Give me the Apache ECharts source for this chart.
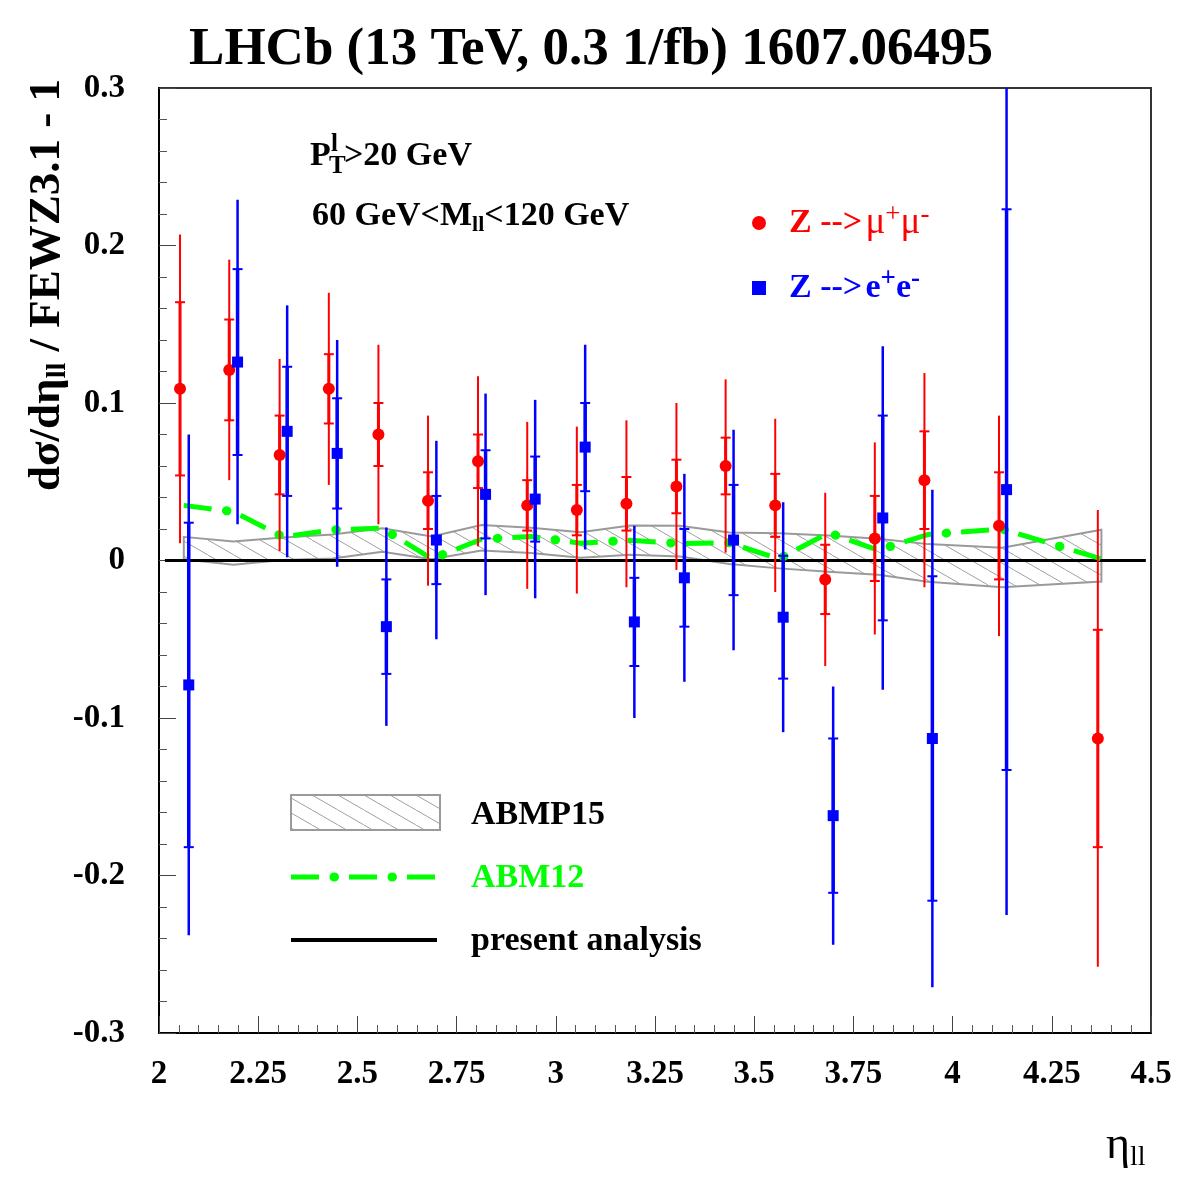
<!DOCTYPE html>
<html><head><meta charset="utf-8">
<script src="https://cdn.jsdelivr.net/npm/echarts@6/dist/echarts.min.js"></script>
<style>html,body{margin:0;padding:0;background:#fff}#c{width:1182px;height:1182px}</style>
</head><body><div id="c"></div>
<script>
// ---- data ----
const muEta  = [2.053,2.177,2.304,2.428,2.553,2.678,2.804,2.928,3.053,3.178,3.304,3.428,3.553,3.679,3.804,3.929,4.117,4.366];
const muVal  = [0.109,0.121,0.067,0.109,0.080,0.038,0.063,0.035,0.032,0.036,0.047,0.060,0.035,-0.012,0.014,0.051,0.022,-0.113];
const muStat = [0.055,0.032,0.025,0.022,0.020,0.018,0.017,0.016,0.016,0.017,0.017,0.018,0.020,0.022,0.027,0.031,0.034,0.069];
const muTot  = [0.098,0.070,0.061,0.061,0.057,0.054,0.054,0.053,0.053,0.053,0.053,0.055,0.055,0.055,0.061,0.068,0.070,0.145];

const eEta  = [2.075,2.198,2.323,2.449,2.573,2.699,2.823,2.948,3.074,3.198,3.324,3.448,3.573,3.699,3.824,3.949,4.136];
const eVal  = [-0.079,0.126,0.082,0.068,-0.042,0.013,0.042,0.039,0.072,-0.039,-0.011,0.013,-0.036,-0.162,0.027,-0.113,0.045];
const eStat = [0.103,0.059,0.041,0.035,0.030,0.028,0.028,0.027,0.028,0.028,0.031,0.035,0.039,0.049,0.065,0.103,0.178];
const eTot  = [0.159,0.103,0.080,0.072,0.063,0.063,0.064,0.063,0.065,0.061,0.066,0.070,0.073,0.082,0.109,0.158,0.270];

const bandEta = [2.0625,2.1875,2.3125,2.4375,2.5625,2.6875,2.8125,2.9375,3.0625,3.1875,3.3125,3.4375,3.5625,3.6875,3.8125,3.9375,4.125,4.375];
const bandUp  = [0.015,0.012,0.0146,0.0165,0.0205,0.0152,0.0225,0.0208,0.018,0.0222,0.022,0.0178,0.0173,0.0158,0.0138,0.0104,0.0081,0.0195];
const bandLo  = [0.0008,-0.0027,0.0003,0.0012,0.0055,0.0008,0.0063,0.0047,0.0018,0.0036,0.0025,-0.0022,-0.005,-0.0072,-0.009,-0.0135,-0.017,-0.0133];

const abm12Eta = bandEta;
const abm12Val = [0.035,0.031,0.015,0.0195,0.0205,0.001,0.0135,0.0152,0.011,0.0128,0.0108,0.0112,0.001,0.0176,0.0065,0.0165,0.020,0.001];

const zeroEta = [2.015,4.487];
const zeroVal = [0,0];

const xTicks = {min:2, max:4.5, step:0.25};
const yTicks = {min:-0.3, max:0.3, step:0.1};

const MU_NAME = 'Z --> μ+μ-';
const E_NAME  = 'Z --> e+e-';

// ---- styling helpers ----
const SERIF = '"Liberation Serif","Times New Roman",serif';
const RED = '#ff0000', BLUE = '#0000ff', GREEN = '#00ff00', GRAY = '#9a9a9a';

function hatchCanvas(){
  const w = 26, h = 15;
  const c = document.createElement('canvas'); c.width = w; c.height = h;
  const g = c.getContext('2d');
  g.strokeStyle = '#a0a0a0'; g.lineWidth = 1;
  g.beginPath(); g.moveTo(-4, -4*h/w); g.lineTo(w+4, h+4*h/w); g.stroke();
  return c;
}
const hatch = {image: hatchCanvas(), repeat: 'repeat'};

function errRender(shape, color, lw){
  return function(params, api){
    const x = api.value(0), v = api.value(1), s = api.value(2), t = api.value(3);
    const cl = y => Math.max(yTicks.min, Math.min(yTicks.max, y));
    const p = api.coord([x, v]);
    const top = api.coord([x, cl(v+t)]), bot = api.coord([x, cl(v-t)]);
    const st = api.coord([x, cl(v+s)]), sb = api.coord([x, cl(v-s)]);
    const ls = {stroke: color, lineWidth: lw};
    const ch = [
      {type:'line', shape:{x1:p[0], y1:top[1], x2:p[0], y2:bot[1]}, style:ls},
      {type:'line', shape:{x1:p[0], y1:st[1], x2:p[0], y2:sb[1]}, style:{stroke:color, lineWidth:lw+1}},
      {type:'line', shape:{x1:p[0]-5, y1:st[1], x2:p[0]+5, y2:st[1]}, style:{stroke:color, lineWidth:2}},
      {type:'line', shape:{x1:p[0]-5, y1:sb[1], x2:p[0]+5, y2:sb[1]}, style:{stroke:color, lineWidth:2}}
    ];
    if (shape === 'circle') ch.push({type:'circle', shape:{cx:p[0], cy:p[1], r:6}, style:{fill:color}});
    else ch.push({type:'rect', shape:{x:p[0]-5.5, y:p[1]-5.5, width:11, height:11}, style:{fill:color}});
    return {type:'group', children: ch};
  };
}

function bandRender(params, api){
  if (params.dataIndex !== 0) return null;
  const pts = [];
  for (let i = 0; i < bandEta.length; i++) pts.push(api.coord([bandEta[i], bandUp[i]]));
  for (let i = bandEta.length-1; i >= 0; i--) pts.push(api.coord([bandEta[i], bandLo[i]]));
  return {type:'polygon', shape:{points:pts}, style:{fill:hatch, stroke:GRAY, lineWidth:2}};
}

const chart = echarts.init(document.getElementById('c'), null, {renderer:'canvas'});

const axisCommon = {
  type:'value',
  axisLine:{show:true, onZero:false, lineStyle:{color:'#000', width:2}},
  axisTick:{show:true, inside:true, length:17, lineStyle:{color:'#444', width:1}},
  minorTick:{show:true, splitNumber:5, length:8, lineStyle:{color:'#555', width:1}},
  splitLine:{show:false}, minorSplitLine:{show:false},
};

const lblStyle = {fontFamily:SERIF, fontWeight:'bold', fontSize:33, color:'#000'};

const option = {
  backgroundColor:'#fff',
  animation:false,
  title:{text:'LHCb (13 TeV, 0.3 1/fb) 1607.06495', left:'center', top:19,
    textStyle:{fontFamily:SERIF, fontWeight:'bold', fontSize:53, color:'#000'}},
  grid:{left:159, right:31, top:88, bottom:149, show:true, borderColor:'#333', borderWidth:2},
  xAxis:Object.assign({}, axisCommon, {min:xTicks.min, max:xTicks.max, interval:xTicks.step,
    axisLabel:Object.assign({margin:25}, lblStyle)}),
  yAxis:Object.assign({}, axisCommon, {min:yTicks.min, max:yTicks.max, interval:yTicks.step,
    axisLabel:Object.assign({margin:34}, lblStyle)}),
  legend:[
    {data:[{name:MU_NAME, icon:'circle'}], left:747, top:196, itemWidth:14, itemHeight:14, selectedMode:false,
     formatter:()=>'{b|Z -->} {m|μ}{s|+}{m|μ}{s|-}',
     textStyle:{color:RED, padding:[0,0,0,18], rich:{
       b:{fontFamily:SERIF, fontWeight:'bold', fontSize:34, color:RED, lineHeight:44},
       m:{fontFamily:SERIF, fontSize:37, color:RED, lineHeight:44},
       s:{fontFamily:SERIF, fontSize:27, color:RED, verticalAlign:'top', lineHeight:44}}}},
    {data:[{name:E_NAME, icon:'rect'}], left:747, top:261, itemWidth:14, itemHeight:14, selectedMode:false,
     formatter:()=>'{b|Z -->} {b|e}{s|+}{b|e}{s|-}',
     textStyle:{color:BLUE, padding:[0,0,0,18], rich:{
       b:{fontFamily:SERIF, fontWeight:'bold', fontSize:34, color:BLUE, lineHeight:44},
       s:{fontFamily:SERIF, fontWeight:'bold', fontSize:27, color:BLUE, verticalAlign:'top', lineHeight:44}}}}
  ],
  series:[
    {name:'ABMP15', type:'custom', renderItem:bandRender, silent:true, z:1,
     data:bandEta.map((e,i)=>[e, bandUp[i], bandLo[i]]), encode:{x:0, y:[1,2]}},
    {name:'present analysis', type:'line', symbol:'none', z:2, silent:true,
     data:zeroEta.map((e,i)=>[e, zeroVal[i]]), lineStyle:{color:'#000', width:3}},
    {name:'ABM12', type:'line', symbol:'none', z:3, silent:true,
     data:abm12Eta.map((e,i)=>[e, abm12Val[i]]),
     lineStyle:{color:GREEN, width:5, type:[28,30], cap:'butt'}},
    {name:'ABM12 dots', type:'line', symbol:'none', z:3, silent:true,
     data:abm12Eta.map((e,i)=>[e, abm12Val[i]]),
     lineStyle:{color:GREEN, width:9, type:[0.5,57.5], dashOffset:-43, cap:'round'}},
    {name:MU_NAME, type:'custom', renderItem:errRender('circle', RED, 2), z:5, itemStyle:{color:RED},
     data:muEta.map((e,i)=>[e, muVal[i], muStat[i], muTot[i]]), encode:{x:0, y:1}},
    {name:E_NAME, type:'custom', renderItem:errRender('rect', BLUE, 2.5), z:5, itemStyle:{color:BLUE},
     data:eEta.map((e,i)=>[e, eVal[i], eStat[i], eTot[i]]), encode:{x:0, y:1}}
  ],
  graphic:[
    // y axis title
    {type:'text', x:47, y:285, rotation:Math.PI/2, style:{
      text:'{n|dσ/dη}{s|ll}{n| / FEWZ3.1 - 1}', align:'center', verticalAlign:'middle',
      textAlign:'center', textVerticalAlign:'middle',
      rich:{n:{fontFamily:SERIF, fontWeight:'bold', fontSize:45, fill:'#000', lineHeight:50},
            s:{fontFamily:SERIF, fontWeight:'bold', fontSize:28, fill:'#000', verticalAlign:'bottom', lineHeight:50}}}},
    // x axis title
    {type:'text', x:1106, y:1146, style:{
      text:'{n|η}{s|ll}', align:'left', verticalAlign:'middle', textAlign:'left', textVerticalAlign:'middle',
      rich:{n:{fontFamily:SERIF, fontSize:46, fill:'#000', lineHeight:52},
            s:{fontFamily:SERIF, fontSize:28, fill:'#000', verticalAlign:'bottom', lineHeight:52}}}},
    // annotations
    {type:'text', x:310, y:156, style:{text:'P', font:'bold 34px '+SERIF, fill:'#000', align:'left', verticalAlign:'middle', textAlign:'left', textVerticalAlign:'middle'}},
    {type:'text', x:331, y:145, style:{text:'l', font:'bold 25px '+SERIF, fill:'#000', align:'left', verticalAlign:'middle', textAlign:'left', textVerticalAlign:'middle'}},
    {type:'text', x:329, y:167, style:{text:'T', font:'bold 25px '+SERIF, fill:'#000', align:'left', verticalAlign:'middle', textAlign:'left', textVerticalAlign:'middle'}},
    {type:'text', x:344, y:156, style:{text:'>20 GeV', font:'bold 34px '+SERIF, fill:'#000', align:'left', verticalAlign:'middle', textAlign:'left', textVerticalAlign:'middle'}},
    {type:'text', x:312, y:216, style:{
      text:'{n|60 GeV<M}{s|ll}{n|<120 GeV}', align:'left', verticalAlign:'middle', textAlign:'left', textVerticalAlign:'middle',
      rich:{n:{fontFamily:SERIF, fontWeight:'bold', fontSize:34, fill:'#000', lineHeight:40},
            s:{fontFamily:SERIF, fontWeight:'bold', fontSize:22, fill:'#000', verticalAlign:'bottom', lineHeight:40}}}},
    // bottom legend
    {type:'rect', shape:{x:291, y:795, width:149, height:35}, style:{fill:hatch, stroke:GRAY, lineWidth:2}},
    {type:'text', x:471, y:815, style:{text:'ABMP15', font:'bold 34px '+SERIF, fill:'#000', align:'left', verticalAlign:'middle', textAlign:'left', textVerticalAlign:'middle'}},
    {type:'line', shape:{x1:291, y1:877, x2:437, y2:877}, style:{stroke:GREEN, lineWidth:5, lineDash:[28,30]}},
    {type:'line', shape:{x1:291, y1:877, x2:437, y2:877}, style:{stroke:GREEN, lineWidth:9, lineCap:'round', lineDash:[0.5,57.5], lineDashOffset:-43}},
    {type:'text', x:471, y:878, style:{text:'ABM12', font:'bold 34px '+SERIF, fill:GREEN, align:'left', verticalAlign:'middle', textAlign:'left', textVerticalAlign:'middle'}},
    {type:'line', shape:{x1:291, y1:940, x2:437, y2:940}, style:{stroke:'#000', lineWidth:4}},
    {type:'text', x:471, y:941, style:{text:'present analysis', font:'bold 34px '+SERIF, fill:'#000', align:'left', verticalAlign:'middle', textAlign:'left', textVerticalAlign:'middle'}}
  ]
};
chart.setOption(option);
</script>
</body></html>
